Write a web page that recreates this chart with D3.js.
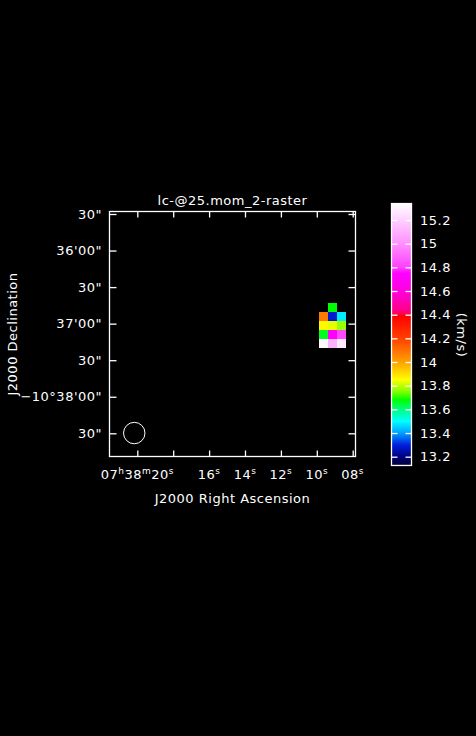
<!DOCTYPE html>
<html><head><meta charset="utf-8">
<script src="https://cdn.jsdelivr.net/npm/d3@7"></script>
<style>html,body{margin:0;padding:0;background:#000;}svg{display:block;}</style>
</head><body>
<script>
// ---- data ----
const title = "lc-@25.mom_2-raster";
const xTitle = "J2000 Right Ascension";
const yTitle = "J2000 Declination";
const cbTitle = "(km/s)";
// RA ticks in seconds of time (07h38m + s)
const raTicks = [20, 18, 16, 14, 12, 10, 8];
const raTickLabels = [
  [["07","h"],["38","m"],["20","s"]],
  [],
  [["16","s"]], [["14","s"]], [["12","s"]], [["10","s"]], [["08","s"]]
];
// Dec ticks: arcsec south of -10°35'00"
const decTicks = [30, 60, 90, 120, 150, 180, 210];
const decTickLabels = ['30"', "36'00\"", '30"', "37'00\"", '30"', "\u221210\u00b038'00\"", '30"'];
// pixel grid (RA centre in s, Dec centre in arcsec offset)
const pixRA = [9.63, 9.13, 8.63];
const pixDec = [106.8, 114.1, 121.4, 128.7, 136.0];
const pixW = 0.5, pixH = 7.3;
const pixValues = [
  [null, 13.68, null],
  [14.08, 13.28, 13.48],
  [13.86, 13.83, 13.77],
  [13.66, 14.72, 14.82],
  [15.32, 15.10, 15.28]
];
// beam
const beamRA = 20.17, beamDec = 209.8, beamR = 8.8;
// colour bar
const cbTicks = [13.2, 13.4, 13.6, 13.8, 14.0, 14.2, 14.4, 14.6, 14.8, 15.0, 15.2];
const cbTickLabels = ["13.2","13.4","13.6","13.8","14","14.2","14.4","14.6","14.8","15","15.2"];
const cbRange = [13.126, 15.339];
const cmapVals = [13.126, 13.2, 13.3, 13.4, 13.5, 13.6, 13.68, 13.75, 13.85, 14.0, 14.2, 14.39, 14.41, 14.45, 14.6, 14.75, 14.8, 15.0, 15.2, 15.339];
const cmapCols = ["#000030","#000080","#0020e0","#00a0ff","#00ffff","#00ff80","#00ff00","#80ff00","#ffff00","#ffa000","#ff4000","#ff0000","#ff0060","#ff0090","#ff00e0","#ff00ff","#ff40ff","#ff90ff","#ffd0ff","#ffffff"];

// ---- drawing ----
const W = 476, H = 736;
const font = "DejaVu Sans";
const svg = d3.select("body").append("svg").attr("width", W).attr("height", H)
  .style("background", "#000").attr("font-family", font).attr("letter-spacing", 0.5);

const x = d3.scaleLinear().domain([21.549, 7.844]).range([109.5, 355.5]);
const y = d3.scaleLinear().domain([27.95, 229.04]).range([211.5, 456.5]);
const color = d3.scaleLinear().domain(cmapVals).range(cmapCols).interpolate(d3.interpolateRgb).clamp(true);

// pixels
const cells = [];
pixValues.forEach((row, i) => row.forEach((v, j) => { if (v != null) cells.push({ra: pixRA[j], dec: pixDec[i], v}); }));
svg.append("g").selectAll("rect").data(cells).join("rect")
  .attr("x", d => x(d.ra + pixW / 2)).attr("width", d => x(d.ra - pixW / 2) - x(d.ra + pixW / 2))
  .attr("y", d => y(d.dec - pixH / 2)).attr("height", d => y(d.dec + pixH / 2) - y(d.dec - pixH / 2))
  .attr("fill", d => color(d.v)).attr("shape-rendering", "crispEdges");

// beam
svg.append("ellipse").attr("cx", x(beamRA)).attr("cy", y(beamDec))
  .attr("rx", (y(beamR) - y(0))).attr("ry", y(beamR) - y(0))
  .attr("fill", "none").attr("stroke", "#fff").attr("stroke-width", 1);

// frame
const fx0 = x.range()[0], fx1 = x.range()[1], fy0 = y.range()[0], fy1 = y.range()[1];
svg.append("rect").attr("x", fx0).attr("y", fy0).attr("width", fx1 - fx0).attr("height", fy1 - fy0)
  .attr("fill", "none").attr("stroke", "#fff").attr("stroke-width", 1.3);

// axes with inward ticks
const axB = d3.axisBottom(x).tickValues(raTicks).tickSize(-6).tickFormat("");
const axT = d3.axisTop(x).tickValues(raTicks).tickSize(-6).tickFormat("");
const axL = d3.axisLeft(y).tickValues(decTicks).tickSize(-7).tickFormat("");
const axR = d3.axisRight(y).tickValues(decTicks).tickSize(-7).tickFormat("");
[[axB, `translate(0,${fy1})`], [axT, `translate(0,${fy0})`], [axL, `translate(${fx0},0)`], [axR, `translate(${fx1},0)`]].forEach(([a, t]) => {
  const g = svg.append("g").attr("transform", t).call(a);
  g.select(".domain").remove();
  g.selectAll("line").attr("stroke", "#fff").attr("stroke-width", 1.3);
});

// x tick labels
raTicks.forEach((v, i) => {
  const parts = raTickLabels[i];
  if (!parts.length) return;
  const t = svg.append("text").attr("x", x(v)).attr("y", 479).attr("text-anchor", "middle")
    .attr("fill", "#fff").attr("font-size", 13);
  parts.forEach(([main, sup], k) => {
    t.append("tspan").text(main).attr("dy", k === 0 ? 0 : 5).attr("font-size", 13);
    t.append("tspan").text(sup).attr("font-size", 9).attr("dy", -5);
  });
});
// y tick labels
svg.append("g").selectAll("text").data(decTicks).join("text")
  .attr("x", 102).attr("y", d => y(d)).attr("dy", "0.36em").attr("text-anchor", "end")
  .attr("fill", "#fff").attr("font-size", 13).text((d, i) => decTickLabels[i]);

// titles
svg.append("text").attr("x", (fx0 + fx1) / 2).attr("y", 205).attr("text-anchor", "middle")
  .attr("fill", "#fff").attr("font-size", 13).text(title);
svg.append("text").attr("x", (fx0 + fx1) / 2).attr("y", 503).attr("text-anchor", "middle")
  .attr("fill", "#fff").attr("font-size", 13).text(xTitle);
svg.append("text").attr("transform", `translate(17,${(fy0 + fy1) / 2}) rotate(-90)`).attr("text-anchor", "middle")
  .attr("fill", "#fff").attr("font-size", 13).text(yTitle);

// colour bar
const cb = d3.scaleLinear().domain([13.2, 15.2]).range([456.7, 220]);
const cbx0 = 391.5, cbx1 = 411.5;
const rows = d3.range(Math.ceil(cb(cbRange[1])), Math.floor(cb(cbRange[0])));
svg.append("g").selectAll("rect").data(rows).join("rect")
  .attr("x", cbx0).attr("width", cbx1 - cbx0).attr("y", d => d).attr("height", 1.05)
  .attr("fill", d => color(cb.invert(d + 0.5))).attr("shape-rendering", "crispEdges");
svg.append("rect").attr("x", cbx0).attr("y", cb(cbRange[1])).attr("width", cbx1 - cbx0)
  .attr("height", cb(cbRange[0]) - cb(cbRange[1])).attr("fill", "none").attr("stroke", "#fff").attr("stroke-width", 1.3);
const cbL = svg.append("g").attr("transform", `translate(${cbx0},0)`).call(d3.axisLeft(cb).tickValues(cbTicks).tickSize(-6).tickFormat(""));
const cbR = svg.append("g").attr("transform", `translate(${cbx1},0)`).call(d3.axisRight(cb).tickValues(cbTicks).tickSize(-6).tickFormat(""));
[cbL, cbR].forEach(g => { g.select(".domain").remove(); g.selectAll("line").attr("stroke", "#fff").attr("stroke-width", 1.3); });
svg.append("g").selectAll("text").data(cbTicks).join("text")
  .attr("x", 420).attr("y", d => cb(d)).attr("dy", "0.36em").attr("fill", "#fff").attr("font-size", 13)
  .text((d, i) => cbTickLabels[i]);
svg.append("text").attr("transform", `translate(457,335) rotate(90)`).attr("text-anchor", "middle")
  .attr("fill", "#fff").attr("font-size", 13).text(cbTitle);
</script>
</body></html>
